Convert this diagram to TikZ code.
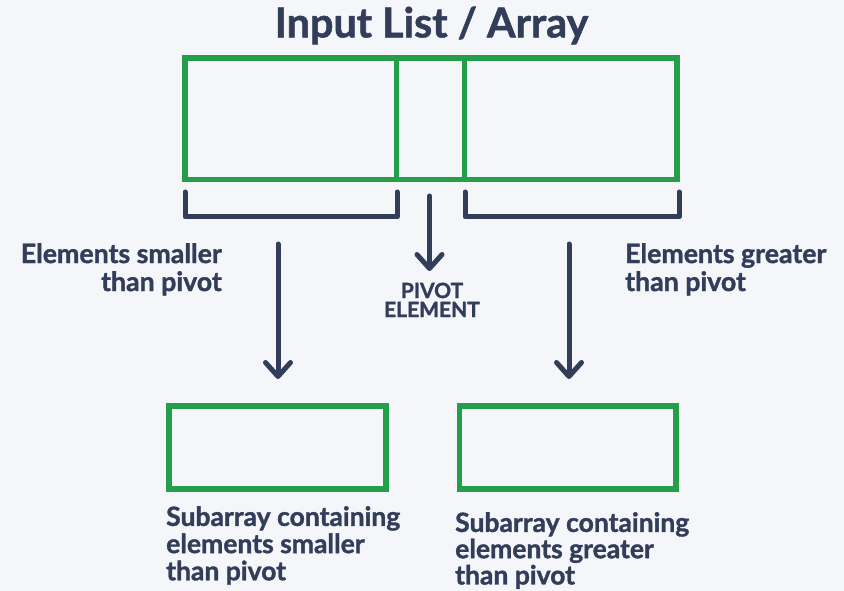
\documentclass[tikz,border=0pt]{standalone}
\usepackage{fontspec}
\setmainfont{Lato}[BoldFeatures={FakeBold=1.3}]
\usetikzlibrary{arrows.meta}
\definecolor{navy}{RGB}{50,61,90}
\definecolor{grn}{RGB}{36,158,72}
\definecolor{bg}{RGB}{245,246,250}
\begin{document}
\begin{tikzpicture}[x=1pt,y=-1pt,
  cell/.style={draw=grn,line width=5.5pt,inner sep=0pt,minimum height=121.5pt},
  sub/.style={draw=grn,line width=5.5pt,inner sep=0pt,minimum height=83pt},
  brk/.style={draw=navy,line width=5pt,line cap=round,line join=round},
  arr/.style={draw=navy,line width=5pt,line cap=round,-{Straight Barb[length=14pt,width=25pt,round]}},
  lbl/.style={text=navy,inner sep=0pt,font=\bfseries\fontsize{26.7}{28}\selectfont},
  sublbl/.style={text=navy,inner sep=0pt,align=left,font=\bfseries\fontsize{26.5}{27.2}\selectfont},
  sublbr/.style={text=navy,inner sep=0pt,align=left,font=\bfseries\fontsize{26.5}{26.3}\selectfont},
  ]
\fill[bg] (0,0) rectangle (844,591);
\useasboundingbox (0,0) rectangle (844,591);
% title
\node[text=navy,inner sep=0pt,anchor=north,font=\bfseries\fontsize{41.3}{44}\selectfont] (title) at (431.5,6.5) {Input List / Array};
% main array
\node[cell,minimum width=211.7pt] (lcell) at (290.85,118.75) {};
\node[cell,minimum width=67.6pt] (pcell) at (430.5,118.75) {};
\node[cell,minimum width=212.7pt] (rcell) at (570.65,118.75) {};
% brackets
\draw[brk] (185,192) -- (185,217) -- (397,217) -- (397,192);
\draw[brk] (465,192) -- (465,217) -- (679,217) -- (679,192);
% labels
\node[lbl,align=right,anchor=north east] (lsmall) at (222,243) {Elements smaller\\than pivot};
\node[lbl,align=left,anchor=north west] (lgreat) at (625,243) {Elements greater\\than pivot};
\node[text=navy,inner sep=0pt,align=center,anchor=north,font=\bfseries\fontsize{21}{19}\selectfont] (piv) at (432,282.5) {PIVOT\\ELEMENT};
% sub arrays
\node[sub,minimum width=217pt] (lsub) at (277.5,447.5) {};
\node[sub,minimum width=216.5pt] (rsub) at (567.75,447.5) {};
\node[sublbl,anchor=north west] (lsubt) at (166,506) {Subarray containing\\elements smaller\\than pivot};
\node[sublbr,anchor=north west] (rsubt) at (455,512) {Subarray containing\\elements greater\\than pivot};
% arrows
\coordinate (pa) at (429.5,196);
\coordinate (pb) at (429.5,271);
\coordinate (la) at (278,244);
\coordinate (lb) at (278,379);
\coordinate (ra) at (569,244);
\coordinate (rb) at (569,379);
\draw[arr] (pa) -- (pb);
\draw[arr] (la) -- (lb);
\draw[arr] (ra) -- (rb);
\end{tikzpicture}
\end{document}
